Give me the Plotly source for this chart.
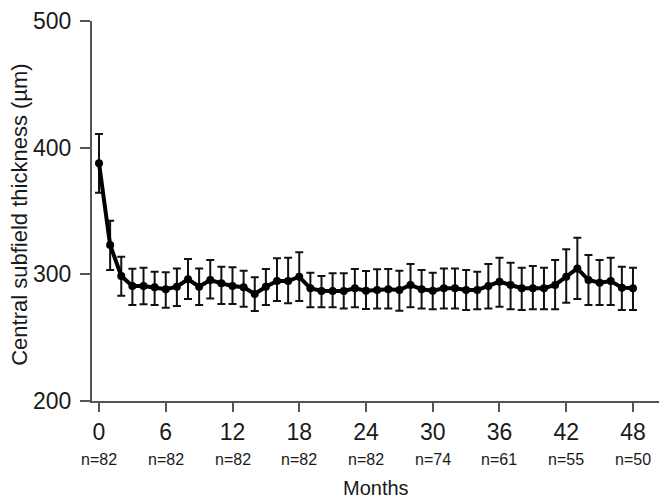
import plotly.graph_objects as go

# Data
months = list(range(0, 49))
mean_cst = [387.6, 323.2, 298.7, 290.8, 290.8, 289.8, 288.2, 290.2, 296.1, 290.2,
            295.5, 292.9, 290.8, 289.8, 284.5, 290.2, 294.7, 294.7, 298.1, 289.0,
            286.8, 286.8, 286.8, 289.0, 287.0, 287.6, 288.2, 287.6, 291.6, 288.2,
            287.0, 289.0, 289.0, 287.6, 287.6, 290.8, 294.2, 291.6, 289.0, 289.0,
            289.0, 291.6, 298.1, 304.7, 295.5, 293.4, 294.7, 289.5, 289.0]
upper_cst = [410.8, 342.3, 313.9, 304.5, 305.2, 302.0, 301.6, 304.7, 312.1, 304.7,
             311.3, 306.0, 305.5, 302.9, 297.6, 304.2, 312.6, 313.1, 317.4, 301.3,
             298.7, 300.8, 300.8, 304.2, 302.6, 304.0, 304.2, 302.9, 308.2, 303.4,
             301.3, 304.7, 304.7, 303.4, 302.0, 308.2, 313.1, 309.2, 305.2, 306.6,
             305.2, 311.3, 319.8, 328.9, 315.3, 311.3, 313.1, 306.0, 305.2]
lower_cst = [364.5, 303.4, 283.1, 275.8, 276.3, 275.8, 273.7, 275.0, 280.5, 275.8,
             281.0, 276.6, 276.6, 274.5, 271.0, 275.8, 279.0, 277.1, 279.0, 274.0,
             274.0, 274.0, 273.0, 274.0, 272.6, 273.0, 273.0, 271.3, 274.0, 273.0,
             272.4, 273.0, 273.0, 271.8, 272.4, 273.0, 274.5, 272.4, 271.8, 272.4,
             272.4, 272.4, 277.6, 280.5, 275.8, 275.8, 275.8, 271.8, 271.8]

tick_months = [0, 6, 12, 18, 24, 30, 36, 42, 48]
tick_labels = ["0", "6", "12", "18", "24", "30", "36", "42", "48"]
n_labels = ["n=82", "n=82", "n=82", "n=82", "n=82", "n=74", "n=61", "n=55", "n=50"]
y_ticks = [200, 300, 400, 500]

err_plus = [u - m for u, m in zip(upper_cst, mean_cst)]
err_minus = [m - l for m, l in zip(mean_cst, lower_cst)]

FONT = "Liberation Sans, Arial, Helvetica, sans-serif"
AXC = "#555555"
TXT = "#1a1a1a"

fig = go.Figure()
fig.add_trace(go.Scatter(
    x=months, y=mean_cst, mode="lines+markers",
    line=dict(color="black", width=4),
    marker=dict(color="black", size=8),
    error_y=dict(type="data", symmetric=False, array=err_plus, arrayminus=err_minus,
                 color="#111111", thickness=2, width=4),
    showlegend=False,
))

annotations = []
for t, n in zip(tick_months, n_labels):
    annotations.append(dict(x=t, xref="x", y=-0.153, yref="paper", text=n,
                            showarrow=False, xanchor="center", yanchor="middle",
                            font=dict(family=FONT, size=16, color=TXT)))
annotations.append(dict(x=0.5, xref="paper", y=-0.228, yref="paper", text="Months",
                        showarrow=False, xanchor="center", yanchor="middle",
                        font=dict(family=FONT, size=20, color=TXT)))
annotations.append(dict(x=-0.127, xref="paper", y=0.49, yref="paper",
                        text="Central subfield thickness (µm)", textangle=-90,
                        showarrow=False, xanchor="center", yanchor="middle",
                        font=dict(family=FONT, size=22, color=TXT)))

fig.update_layout(
    width=659, height=502,
    margin=dict(l=92, r=0, t=21, b=101),
    plot_bgcolor="white", paper_bgcolor="white",
    annotations=annotations,
    xaxis=dict(range=[-0.63, 50.34], tickvals=tick_months, ticktext=tick_labels,
               ticks="outside", ticklen=9, tickwidth=2, tickcolor=AXC,
               showline=True, linecolor=AXC, linewidth=2,
               showgrid=False, zeroline=False, ticklabelstandoff=0,
               tickfont=dict(family=FONT, size=23, color=TXT)),
    yaxis=dict(range=[200, 500], tickvals=y_ticks,
               ticks="outside", ticklen=10, tickwidth=2, tickcolor=AXC,
               showline=True, linecolor=AXC, linewidth=2,
               showgrid=False, zeroline=False, ticklabelstandoff=4,
               tickfont=dict(family=FONT, size=23, color=TXT)),
)

fig.write_html("out.html")
